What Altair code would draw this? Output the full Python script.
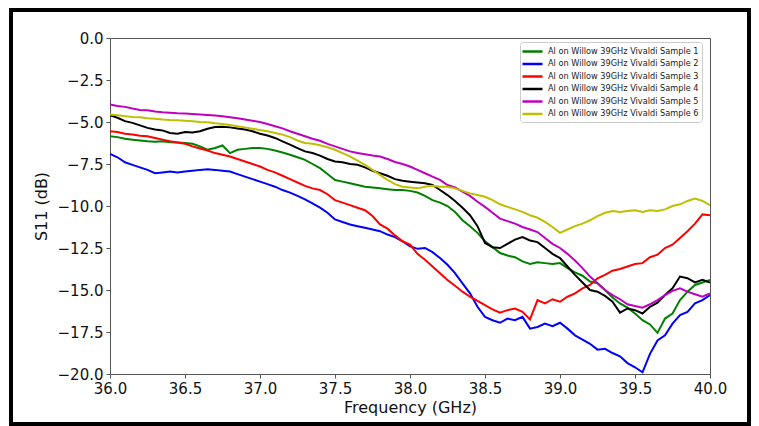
import altair as alt
import pandas as pd

freq = [36.00, 36.05, 36.10, 36.15, 36.20, 36.25, 36.30, 36.35, 36.40, 36.45,
        36.50, 36.55, 36.60, 36.65, 36.70, 36.75, 36.80, 36.85, 36.90, 36.95,
        37.00, 37.05, 37.10, 37.15, 37.20, 37.25, 37.30, 37.35, 37.40, 37.45,
        37.50, 37.55, 37.60, 37.65, 37.70, 37.75, 37.80, 37.85, 37.90, 37.95,
        38.00, 38.05, 38.10, 38.15, 38.20, 38.25, 38.30, 38.35, 38.40, 38.45,
        38.50, 38.55, 38.60, 38.65, 38.70, 38.75, 38.80, 38.85, 38.90, 38.95,
        39.00, 39.05, 39.10, 39.15, 39.20, 39.25, 39.30, 39.35, 39.40, 39.45,
        39.50, 39.55, 39.60, 39.65, 39.70, 39.75, 39.80, 39.85, 39.90, 39.95,
        40.00]

sample1 = [-5.85, -5.90, -6.00, -6.05, -6.10, -6.15, -6.18, -6.15, -6.20, -6.22,
           -6.25, -6.30, -6.45, -6.65, -6.55, -6.40, -6.85, -6.65, -6.60, -6.55,
           -6.55, -6.60, -6.70, -6.82, -6.95, -7.10, -7.25, -7.50, -7.75, -8.10,
           -8.45, -8.55, -8.65, -8.75, -8.85, -8.90, -8.95, -9.00, -9.05, -9.05,
           -9.10, -9.20, -9.40, -9.65, -9.80, -10.00, -10.35, -10.85, -11.20, -11.60,
           -12.10, -12.45, -12.80, -12.95, -13.05, -13.30, -13.45, -13.35, -13.40, -13.45,
           -13.40, -13.70, -13.95, -14.15, -14.50, -14.60, -15.00, -15.45, -15.80, -16.05,
           -16.40, -16.80, -17.05, -17.55, -16.70, -16.40, -15.60, -15.10, -14.70, -14.55,
           -14.40]

sample2 = [-6.90, -7.10, -7.40, -7.55, -7.70, -7.85, -8.05, -8.00, -7.95, -8.00,
           -7.95, -7.90, -7.85, -7.82, -7.85, -7.90, -7.95, -8.10, -8.25, -8.40,
           -8.55, -8.70, -8.85, -9.05, -9.20, -9.40, -9.60, -9.85, -10.10, -10.40,
           -10.80, -10.95, -11.10, -11.20, -11.30, -11.40, -11.50, -11.70, -11.85, -12.10,
           -12.40, -12.55, -12.50, -12.75, -13.10, -13.50, -14.00, -14.60, -15.20, -16.00,
           -16.60, -16.80, -16.95, -16.70, -16.80, -16.60, -17.30, -17.20, -17.00, -17.15,
           -16.95, -17.30, -17.70, -17.95, -18.20, -18.55, -18.50, -18.75, -18.95, -19.35,
           -19.60, -19.90, -18.80, -18.00, -17.70, -17.00, -16.50, -16.30, -15.80, -15.60,
           -15.30]

sample3 = [-5.55, -5.60, -5.70, -5.75, -5.82, -5.85, -5.95, -6.05, -6.15, -6.22,
           -6.30, -6.45, -6.58, -6.70, -6.85, -6.95, -7.05, -7.20, -7.35, -7.50,
           -7.65, -7.85, -8.00, -8.20, -8.40, -8.60, -8.80, -8.95, -9.05, -9.30,
           -9.65, -9.80, -9.95, -10.10, -10.25, -10.60, -11.10, -11.35, -11.75, -12.10,
           -12.30, -12.85, -13.20, -13.60, -14.00, -14.40, -14.75, -15.10, -15.40, -15.65,
           -15.90, -16.15, -16.35, -16.20, -16.10, -16.30, -16.75, -15.60, -15.80, -15.55,
           -15.70, -15.40, -15.20, -14.90, -14.70, -14.30, -14.10, -13.85, -13.75, -13.60,
           -13.45, -13.40, -13.05, -12.90, -12.50, -12.30, -11.90, -11.50, -11.05, -10.50,
           -10.55]

sample4 = [-4.60, -4.75, -4.95, -5.05, -5.20, -5.35, -5.45, -5.50, -5.65, -5.70,
           -5.60, -5.62, -5.55, -5.40, -5.30, -5.28, -5.32, -5.38, -5.45, -5.55,
           -5.70, -5.80, -5.95, -6.15, -6.35, -6.55, -6.75, -6.85, -7.00, -7.20,
           -7.35, -7.40, -7.50, -7.55, -7.70, -7.90, -8.05, -8.20, -8.40, -8.50,
           -8.55, -8.60, -8.65, -8.75, -9.05, -9.35, -9.70, -10.10, -10.55, -11.20,
           -12.20, -12.45, -12.50, -12.25, -12.00, -11.85, -12.05, -12.15, -12.50, -12.85,
           -13.10, -13.60, -14.10, -14.55, -15.00, -15.10, -15.35, -15.70, -16.35, -16.10,
           -16.20, -16.40, -16.00, -15.75, -15.30, -14.90, -14.20, -14.30, -14.55, -14.40,
           -14.55]

sample5 = [-3.95, -4.05, -4.10, -4.20, -4.28, -4.30, -4.38, -4.42, -4.45, -4.48,
           -4.50, -4.52, -4.55, -4.58, -4.62, -4.66, -4.72, -4.78, -4.85, -4.92,
           -5.00, -5.12, -5.25, -5.38, -5.55, -5.70, -5.85, -6.00, -6.12, -6.30,
           -6.45, -6.60, -6.75, -6.85, -6.92, -7.00, -7.05, -7.20, -7.38, -7.50,
           -7.65, -7.85, -8.05, -8.25, -8.45, -8.75, -8.90, -9.15, -9.40, -9.75,
           -10.05, -10.40, -10.75, -10.90, -11.05, -11.25, -11.40, -11.55, -11.90, -12.25,
           -12.50, -12.85, -13.25, -13.70, -14.20, -14.60, -15.00, -15.30, -15.55, -15.85,
           -15.95, -16.05, -15.85, -15.60, -15.30, -15.05, -14.90, -15.10, -15.25, -15.40,
           -15.20]

sample6 = [-4.55, -4.60, -4.65, -4.70, -4.72, -4.78, -4.80, -4.85, -4.88, -4.90,
           -4.92, -4.95, -5.00, -5.02, -5.08, -5.12, -5.18, -5.25, -5.32, -5.40,
           -5.48, -5.55, -5.65, -5.75, -5.90, -6.10, -6.25, -6.30, -6.38, -6.50,
           -6.65, -6.85, -7.05, -7.30, -7.55, -7.85, -8.15, -8.45, -8.70, -8.85,
           -8.90, -8.95, -8.85, -8.80, -8.85, -8.85, -8.95, -9.10, -9.25, -9.35,
           -9.45, -9.65, -9.90, -10.05, -10.20, -10.35, -10.55, -10.70, -10.95, -11.25,
           -11.60, -11.40, -11.20, -11.05, -10.85, -10.60, -10.40, -10.30, -10.35, -10.30,
           -10.25, -10.35, -10.25, -10.30, -10.20, -10.00, -9.90, -9.70, -9.55, -9.70,
           -9.95]

names = ["Al on Willow 39GHz Vivaldi Sample 1",
         "Al on Willow 39GHz Vivaldi Sample 2",
         "Al on Willow 39GHz Vivaldi Sample 3",
         "Al on Willow 39GHz Vivaldi Sample 4",
         "Al on Willow 39GHz Vivaldi Sample 5",
         "Al on Willow 39GHz Vivaldi Sample 6"]
colors = ["#008000", "#0000ff", "#ff0000", "#000000", "#bf00bf", "#bfbf00"]
series = [sample1, sample2, sample3, sample4, sample5, sample6]

x_ticks = [36.0, 36.5, 37.0, 37.5, 38.0, 38.5, 39.0, 39.5, 40.0]
y_ticks = [0.0, -2.5, -5.0, -7.5, -10.0, -12.5, -15.0, -17.5, -20.0]

rows = []
for i, (name, vals) in enumerate(zip(names, series)):
    for f, v in zip(freq, vals):
        rows.append({"freq": f, "s11": v, "series": name, "k": i})
df = pd.DataFrame(rows)

FONT = "DejaVu Sans"

lines = alt.Chart(df).mark_line(strokeWidth=2, clip=True).encode(
    x=alt.X("freq:Q",
            scale=alt.Scale(domain=[36, 40], nice=False, zero=False),
            axis=alt.Axis(values=x_ticks, format=".1f", title="Frequency (GHz)",
                          titlePadding=3, labelFlush=False)),
    y=alt.Y("s11:Q",
            scale=alt.Scale(domain=[-20, 0], nice=False, zero=False),
            axis=alt.Axis(values=y_ticks, format=".1f", title="S11 (dB)",
                          titlePadding=8, labelFlush=False)),
    color=alt.Color("series:N",
                    scale=alt.Scale(domain=names, range=colors),
                    legend=alt.Legend(title=None, orient="none",
                                      legendX=410, legendY=4,
                                      symbolType="M-2,0H2", symbolSize=100,
                                      symbolStrokeWidth=2.5, symbolOffset=3,
                                      labelFontSize=8.2,
                                      labelFont=FONT, labelColor="#222222",
                                      rowPadding=0.5, padding=3, labelOffset=9,
                                      fillColor="white", strokeColor="#cccccc",
                                      cornerRadius=3)),
    order=alt.Order("freq:Q"),
)

frame = alt.Chart(pd.DataFrame({"z": [0]})).mark_rect(
    fillOpacity=0, stroke="black", strokeWidth=4
).encode(
    x=alt.value(-99), x2=alt.value(639), y=alt.value(-28), y2=alt.value(386)
)

chart = alt.layer(lines, frame).properties(
    width=600, height=336,
    padding={"left": 102, "top": 30, "right": 41, "bottom": 52},
    autosize=alt.AutoSizeParams(type="none"),
    background="white",
).configure_view(
    stroke="#555555", strokeWidth=1
).configure_axis(
    grid=False, labelFont=FONT, titleFont=FONT, labelFontSize=15, titleFontSize=16,
    titleFontWeight="normal", labelColor="#111111", titleColor="#111111",
    domainColor="#555555", tickColor="#555555", tickSize=4, labelPadding=3,
)

chart.save("out.html", embed_options={"renderer": "svg", "actions": False})
